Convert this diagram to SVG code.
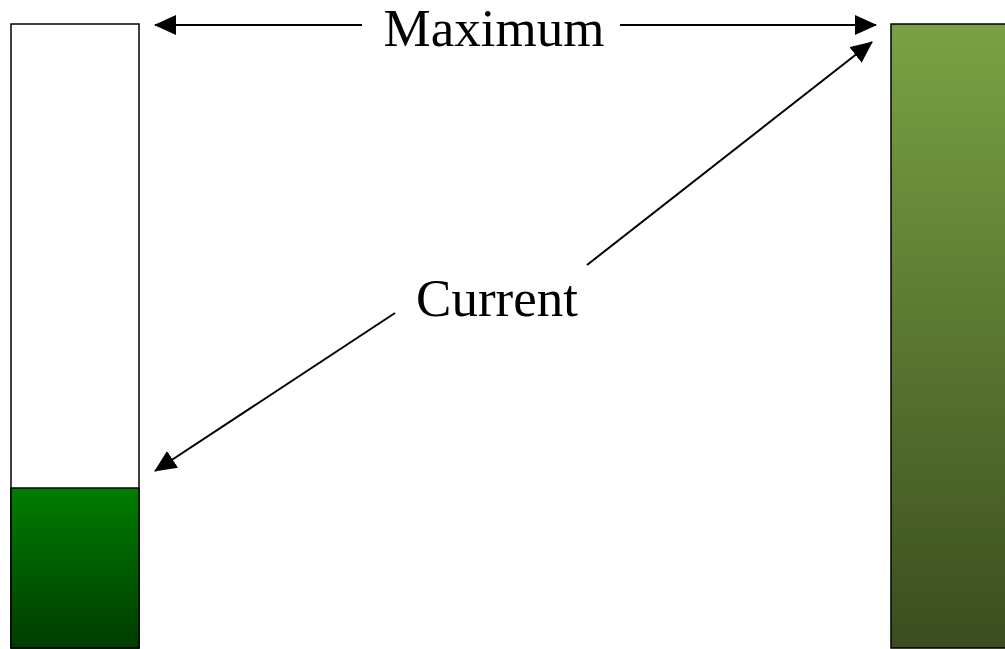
<svg xmlns="http://www.w3.org/2000/svg" width="1005" height="649" viewBox="0 0 1005 649">
<style>
.bar{stroke:#000;stroke-width:1.5}
.conn{stroke:#000;stroke-width:2;fill:none;marker-end:url(#ah)}
.lbl{font-family:"Liberation Serif","Times New Roman",serif;font-size:53px;fill:#000}
</style>
<defs>
<marker id="ah" markerWidth="22" markerHeight="20" viewBox="0 0 22 20" refX="21" refY="10" orient="auto" markerUnits="userSpaceOnUse">
<path d="M0,0 L22,10 L0,20 Z" fill="#000"/>
</marker>
<linearGradient id="gL" x1="0" y1="0" x2="0" y2="1">
<stop offset="0" stop-color="#007d00"/>
<stop offset="1" stop-color="#003d00"/>
</linearGradient>
<linearGradient id="gR" x1="0" y1="0" x2="0" y2="1">
<stop offset="0" stop-color="#7aa244"/>
<stop offset="1" stop-color="#3b4d1f"/>
</linearGradient>
</defs>
<g id="current-bar">
<rect x="11" y="24" width="128" height="624" fill="#fff" class="bar"/>
<rect x="11" y="488" width="128" height="160" fill="url(#gL)" class="bar"/>
</g>
<g id="maximum-bar">
<rect x="891" y="24" width="120" height="624" fill="url(#gR)" class="bar"/>
</g>
<g id="connectors">
<path d="M362,25 L155,25" class="conn"/>
<path d="M620,25 L876,25" class="conn"/>
<path d="M587,265 L872,42" class="conn"/>
<path d="M395,313 L155,471" class="conn"/>
</g>
<g id="labels">
<text x="494" y="46" text-anchor="middle" class="lbl">Maximum</text>
<text x="497" y="316" text-anchor="middle" class="lbl">Current</text>
</g>
</svg>
